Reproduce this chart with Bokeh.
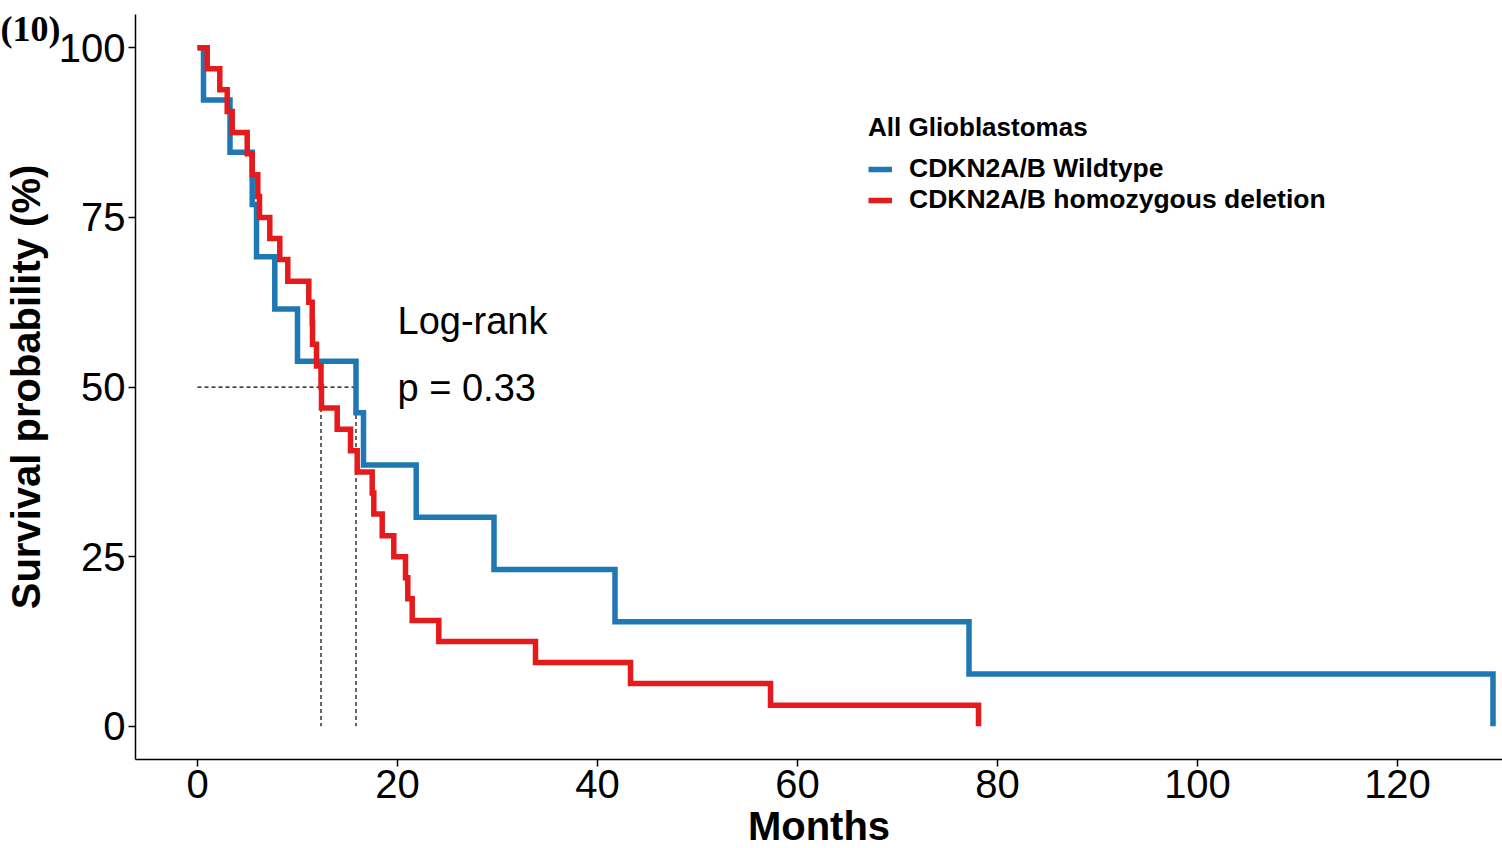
from bokeh.plotting import figure
from bokeh.models import Range1d, FixedTicker, Label, Legend, LegendItem
from bokeh.embed import file_html
from bokeh.resources import INLINE

# ---- data ----
wt_times = [0, 0.6, 3.25, 5.47, 5.9, 7.73, 10.0, 15.85, 16.6, 21.87, 29.65, 41.75, 77.15, 129.55]
wt_surv = [100, 92.3, 84.6, 76.9, 69.2, 61.5, 53.8, 46.2, 38.5, 30.8, 23.1, 15.4, 7.7, 0]

del_times = [0, 0.97, 2.23, 2.97, 3.47, 4.97, 5.47, 6.03, 6.2, 7.23, 8.23, 9.03, 11.13, 11.47,
             11.5, 11.9, 12.35, 12.4, 13.97, 15.3, 15.97, 17.47, 17.63, 18.47, 19.63, 20.8,
             21.03, 21.47, 24.13, 33.8, 43.3, 57.3, 78.1]
del_surv = [100, 96.9, 93.8, 90.6, 87.5, 84.4, 81.3, 78.1, 75.0, 71.9, 68.8, 65.6, 62.5, 59.4,
            56.3, 53.1, 50.0, 46.9, 43.8, 40.6, 37.5, 34.4, 31.3, 28.1, 25.0, 21.9,
            18.8, 15.6, 12.5, 9.4, 6.3, 3.1, 0]

series_labels = ["CDKN2A/B Wildtype", "CDKN2A/B homozygous deletion"]
legend_title = "All Glioblastomas"
x_ticks = [0, 20, 40, 60, 80, 100, 120]
y_ticks = [0, 25, 50, 75, 100]
p_text = ["Log-rank", "p = 0.33"]
panel_tag = "(10)"

# axis extents (data units) and the full canvas extents
X_AX = (-6.2, 130.5)
Y_AX = (-4.9, 104.9)


def median_time(times, surv):
    for t, s in zip(times, surv):
        if s <= 50:
            return t
    return None


med_wt = median_time(wt_times, wt_surv)
med_del = median_time(del_times, del_surv)

BLUE = "#1F78B4"
RED = "#E41A1C"
FONT = "Liberation Sans"

p = figure(width=1502, height=848, output_backend="svg", toolbar_location=None,
           x_range=Range1d(-19.7, 130.5), y_range=Range1d(-18.0, 106.97),
           min_border=0)
p.outline_line_color = None
p.grid.visible = False
p.background_fill_color = "white"
p.border_fill_color = "white"

# median guide lines
p.segment(x0=[0], y0=[50], x1=[max(med_wt, med_del)], y1=[50],
          line_color="black", line_width=1.2, line_dash="4 3")
p.segment(x0=[med_del, med_wt], y0=[50, 50], x1=[med_del, med_wt], y1=[0, 0],
          line_color="black", line_width=1.2, line_dash="4 3")

r_wt = p.step(wt_times, wt_surv, mode="after", line_color=BLUE, line_width=5.5, line_join="miter")
r_del = p.step(del_times, del_surv, mode="after", line_color=RED, line_width=5.5, line_join="miter")

# axes (fixed at the edge of the original plot area)
p.xaxis.ticker = FixedTicker(ticks=x_ticks)
p.yaxis.ticker = FixedTicker(ticks=y_ticks)
p.xaxis.fixed_location = Y_AX[0]
p.yaxis.fixed_location = X_AX[0]
p.xaxis.bounds = X_AX
p.yaxis.bounds = Y_AX
for ax in (p.xaxis, p.yaxis):
    ax.axis_line_color = "black"
    ax.axis_line_width = 1.5
    ax.major_tick_line_color = "black"
    ax.major_tick_line_width = 1.5
    ax.major_tick_out = 7
    ax.major_tick_in = 0
    ax.minor_tick_line_color = None
    ax.major_label_text_font = FONT
    ax.major_label_text_font_size = "40px"
    ax.major_label_text_color = "black"
    ax.axis_label_text_font = FONT
    ax.axis_label_text_font_size = "40px"
    ax.axis_label_text_font_style = "bold"
    ax.axis_label_text_color = "black"
p.xaxis.major_label_standoff = 3
p.yaxis.major_label_standoff = 3
p.xaxis.axis_label = "Months"
p.yaxis.axis_label = "Survival probability (%)"
p.xaxis.axis_label_standoff = 3
p.yaxis.axis_label_standoff = 8

# log-rank annotation
p.add_layout(Label(x=20, y=59.8, text=p_text[0], text_font=FONT, text_font_size="38px",
                   text_baseline="middle", text_align="left", text_color="black"))
p.add_layout(Label(x=20, y=49.8, text=p_text[1], text_font=FONT, text_font_size="38px",
                   text_baseline="middle", text_align="left", text_color="black"))

# panel tag in the top-left corner
p.add_layout(Label(x=0, y=820, x_units="screen", y_units="screen", text=panel_tag,
                   text_font="Liberation Serif", text_font_style="bold", text_font_size="36px",
                   text_baseline="alphabetic", text_align="left", text_color="black"))

legend = Legend(items=[LegendItem(label=series_labels[0], renderers=[r_wt]),
                       LegendItem(label=series_labels[1], renderers=[r_del])],
                title=legend_title, location=(868, 633))
legend.title_text_font = FONT
legend.title_text_font_size = "26px"
legend.title_text_font_style = "bold"
legend.title_text_color = "black"
legend.label_text_font = FONT
legend.label_text_font_size = "26.5px"
legend.label_text_font_style = "bold"
legend.label_text_color = "black"
legend.glyph_width = 24
legend.glyph_height = 30
legend.label_height = 30
legend.label_standoff = 17
legend.spacing = 0
legend.padding = 0
legend.margin = 0
legend.title_standoff = 10
legend.border_line_color = None
legend.background_fill_alpha = 0
p.add_layout(legend)

open("out.html", "w").write(file_html(p, INLINE))
